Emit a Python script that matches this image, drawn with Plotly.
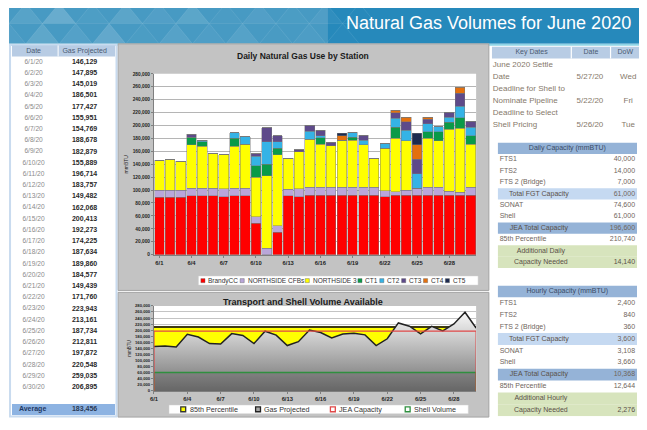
import plotly.graph_objects as go

# The page body adds an 8px margin. Reference pixel coordinates are mapped onto
# the visible window area (8..639, 8..422) so that nothing overflows or scrolls.
PAGE_OFF = 8
REF_W, REF_H = 647 - PAGE_OFF, 430 - PAGE_OFF          # reference extent mapped to the figure
FIG_W, FIG_H = 647 - 2 * PAGE_OFF, 430 - 2 * PAGE_OFF  # figure size that fits the window

# ---------------- data ----------------
day_labels = ["6/1", "6/2", "6/3", "6/4", "6/5", "6/6", "6/7", "6/8", "6/9", "6/10",
              "6/11", "6/12", "6/13", "6/14", "6/15", "6/16", "6/17", "6/18", "6/19", "6/20",
              "6/21", "6/22", "6/23", "6/24", "6/25", "6/26", "6/27", "6/28", "6/29", "6/30"]
tick_labels = ["6/1", "6/4", "6/7", "6/10", "6/13", "6/16", "6/19", "6/22", "6/25", "6/28"]

brandy_cc = [89000, 89000, 89000, 91000, 91000, 91000, 90000, 91000, 91000, 48500,
             0, 35000, 91000, 90000, 92000, 92000, 92000, 92000, 92000, 92000,
             92000, 90000, 92000, 92000, 92000, 92000, 92000, 92000, 92000, 92000]
northside_cfbs = [11000, 11000, 11000, 12000, 12000, 12000, 12000, 12000, 12000, 10000,
                  10000, 10000, 10000, 12000, 12000, 12000, 12000, 12000, 12000, 12000,
                  12000, 9000, 5500, 8000, 10500, 12000, 12000, 6000, 5000, 12000]
northside_3 = [46129, 47895, 45019, 67000, 64500, 52951, 52769, 64500, 68000, 61500,
               112500, 110000, 48482, 57000, 75000, 67000, 65000, 73500, 73500, 66000,
               45439, 66000, 82500, 76500, 0, 76000, 72000, 96000, 99000, 67000]
ct1 = [0, 0, 0, 12000, 7500, 0, 0, 12500, 0, 17500,
       17500, 10000, 0, 0, 0, 10000, 0, 0, 4500, 0,
       0, 0, 17500, 0, 0, 10000, 14000, 11000, 16000, 13000]
ct2 = [0, 0, 0, 0, 2427, 0, 0, 8678, 11879, 15000,
       35000, 10000, 0, 0, 12000, 3000, 0, 0, 7860, 7500,
       0, 6760, 13500, 16000, 22500, 12500, 7872, 7500, 18000, 13500]
ct3 = [0, 0, 0, 4501, 0, 0, 0, 0, 0, 3389,
       21714, 8757, 0, 3068, 9413, 8273, 5225, 0, 0, 7077,
       0, 0, 9000, 13500, 22500, 7500, 0, 8048, 20000, 9395]
ct4 = [0, 0, 0, 0, 0, 0, 0, 0, 0, 0,
       0, 0, 0, 0, 0, 0, 0, 7000, 0, 0,
       0, 0, 3943, 7161, 22500, 2811, 0, 0, 9035, 0]
ct5 = [0, 0, 0, 0, 0, 0, 0, 0, 0, 0,
       0, 0, 0, 0, 0, 0, 0, 3134, 0, 0,
       0, 0, 0, 0, 17734, 0, 0, 0, 0, 0]

station_names = ["BrandyCC", "NORTHSIDE CFBs", "NORTHSIDE 3", "CT1", "CT2", "CT3", "CT4", "CT5"]
station_values = [brandy_cc, northside_cfbs, northside_3, ct1, ct2, ct3, ct4, ct5]
station_colors = ["#ff0000", "#b9a6d9", "#ffff00", "#0a9a48", "#35b3e6", "#5e4a8a", "#e4700e", "#1c2a4f"]

table_dates = ["6/1/20", "6/2/20", "6/3/20", "6/4/20", "6/5/20", "6/6/20", "6/7/20", "6/8/20",
               "6/9/20", "6/10/20", "6/11/20", "6/12/20", "6/13/20", "6/14/20", "6/15/20",
               "6/16/20", "6/17/20", "6/18/20", "6/19/20", "6/20/20", "6/21/20", "6/22/20",
               "6/23/20", "6/24/20", "6/25/20", "6/26/20", "6/27/20", "6/28/20", "6/29/20", "6/30/20"]
gas_projected = [146129, 147895, 145019, 186501, 177427, 155951, 154769, 188678, 182879, 155889,
                 196714, 183757, 149482, 162068, 200413, 192273, 174225, 187634, 189860, 184577,
                 149439, 171760, 223943, 213161, 187734, 212811, 197872, 220548, 259035, 206895]
gas_average = 183456

pct85_daily = 210740
jea_capacity_daily = 196600
shell_volume_daily = 61000
bottom_series_names = ["85th Percentile", "Gas Projected", "JEA Capacity", "Shell Volume"]

key_labels = [("June 2020 Settle", "Date"), ("Deadline for Shell to", "Nominate Pipeline"),
              ("Deadline to Select", "Shell Pricing")]
key_dates = ["5/27/20", "5/22/20", "5/26/20"]
key_dows = ["Wed", "Fri", "Tue"]

cap_labels = ["FTS1", "FTS2", "FTS 2 (Bridge)", "Total FGT Capacity", "SONAT", "Shell",
              "JEA Total Capacity", "85th Percentile"]
cap_styles = ["plain", "plain", "plain", "sub", "plain", "plain", "total", "plain"]
daily_values = [40000, 14000, 7000, 61000, 74600, 61000, 196600, 210740]
daily_needed = 14140
hourly_values = [2400, 840, 360, 3600, 3108, 3660, 10368, 12644]
hourly_needed = 2276

# ---------------- helpers ----------------
FONT = "Liberation Sans, Arial, sans-serif"


def px(x):
    return (x - PAGE_OFF) / REF_W


def py(y):
    return 1 - (y - PAGE_OFF) / REF_H


def text_w(s, size):
    cw = {'M': .833, 'W': .944, 'm': .833, 'w': .722, 'C': .722, 'D': .722, 'G': .778, 'H': .722,
          'N': .722, 'O': .778, 'Q': .778, 'R': .722, 'U': .722, 'A': .667, 'B': .667, 'E': .667,
          'K': .667, 'P': .667, 'S': .667, 'V': .667, 'X': .667, 'Y': .667, 'F': .611, 'T': .611,
          'Z': .611, 'L': .556, 'J': .5, 'I': .278, ' ': .278, 'i': .222, 'l': .222, 'j': .222,
          'f': .278, 't': .278, 'r': .333, 's': .5, 'c': .5, 'k': .5, 'v': .5, 'x': .5, 'y': .5,
          'z': .5, '/': .278, ',': .278, '.': .278, '(': .333, ')': .333}
    return size * sum(cw.get(c, .556) for c in s)


fig = go.Figure()
shapes = []
annotations = []

# ---------------- decorations: banner & panels ----------------
shapes.append(dict(type="rect", xref="paper", yref="paper", x0=px(5), x1=px(650), y0=py(42), y1=py(0),
                   fillcolor="#2689bb", line=dict(width=0), layer="below"))
shapes.append(dict(type="rect", xref="paper", yref="paper", x0=px(5), x1=px(330), y0=py(42), y1=py(0),
                   fillcolor="rgba(190,215,225,0.22)", line=dict(width=0), layer="below"))
tri_w, tri_h = 34, 21
for row in range(2):
    ytop, ybot = row * tri_h, (row + 1) * tri_h
    for i in range(11):
        x0 = 5 + i * tri_w - (row * tri_w / 2)
        a = [0.10, 0.22, 0.05, 0.16][(i + 2 * row) % 4] * max(0.15, 1 - i / 12)
        shapes.append(dict(type="path", xref="paper", yref="paper",
                           path=f"M {px(x0)},{py(ybot)} L {px(x0 + tri_w / 2)},{py(ytop)} L {px(x0 + tri_w)},{py(ybot)} Z",
                           fillcolor=f"rgba(235,245,250,{a:.3f})", line=dict(color="rgba(255,255,255,0.15)", width=0.6),
                           layer="below"))
shapes.append(dict(type="rect", xref="paper", yref="paper", x0=px(5), x1=px(650), y0=py(44), y1=py(42),
                   fillcolor="#8fd4e6", line=dict(width=0), layer="below"))
annotations.append(dict(xref="paper", yref="paper", x=px(494), y=py(20), text="Natural Gas Volumes for June 2020",
                        showarrow=False, font=dict(family=FONT, size=18, color="white"),
                        xanchor="center", yanchor="middle"))

# chart panels
for (y0, y1) in [(42, 297), (299, 428)]:
    shapes.append(dict(type="rect", xref="paper", yref="paper", x0=px(116), x1=px(494), y0=py(y1), y1=py(y0),
                       fillcolor="#c3c3c3", line=dict(color="#a3a3a3", width=1), layer="below"))
# white plot areas
for ax in ["x", "x2"]:
    yy = "y" if ax == "x" else "y2"
    shapes.append(dict(type="rect", xref=f"{ax} domain", yref=f"{yy} domain", x0=0, x1=1, y0=0, y1=1,
                       fillcolor="white", line=dict(width=0), layer="below"))

# left table frame
shapes.append(dict(type="rect", xref="paper", yref="paper", x0=px(6), x1=px(114.5), y0=py(427.5), y1=py(43),
                   fillcolor="rgba(0,0,0,0)", line=dict(color="#c9dbef", width=2), layer="below"))

annotations.append(dict(xref="paper", yref="paper", x=px(305), y=py(55), text="<b>Daily Natural Gas Use by Station</b>",
                        showarrow=False, font=dict(family=FONT, size=8.5, color="#1a1a1a"),
                        xanchor="center", yanchor="middle"))
annotations.append(dict(xref="paper", yref="paper", x=px(305), y=py(309), text="<b>Transport and Shell Volume Available</b>",
                        showarrow=False, font=dict(family=FONT, size=9, color="#1a1a1a"),
                        xanchor="center", yanchor="middle"))

# ---------------- top chart: stacked bars ----------------
for name, vals, col in zip(station_names, station_values, station_colors):
    fig.add_trace(go.Bar(x=day_labels, y=vals, name=name, marker=dict(color=col, line=dict(color="rgba(120,120,120,0.75)", width=0.6)),
                         xaxis="x", yaxis="y", showlegend=False, hoverinfo="skip"))

# manual legend (top)
shapes.append(dict(type="rect", xref="paper", yref="paper", x0=px(198), x1=px(483), y0=py(291.5), y1=py(282),
                   fillcolor="white", line=dict(color="#d0d0d0", width=0.5)))
lx = 200.5
for name, col in zip(station_names, station_colors):
    shapes.append(dict(type="rect", xref="paper", yref="paper", x0=px(lx), x1=px(lx + 4.2), y0=py(289), y1=py(284.8),
                       fillcolor=col, line=dict(color="#555", width=0.4)))
    annotations.append(dict(xref="paper", yref="paper", x=px(lx + 5.5), y=py(287), text=name, showarrow=False,
                            xanchor="left", yanchor="middle", font=dict(family=FONT, size=6.5, color="#333")))
    lx += 5.5 + text_w(name, 6.5) + 4.5

# ---------------- bottom chart: areas ----------------
n = len(day_labels)
x_edges = [day_labels[0]] + day_labels + [day_labels[-1]]
fig.add_trace(go.Scatter(x=day_labels, y=[pct85_daily] * n, mode="lines", fill="tozeroy", fillcolor="#ffff00",
                         line=dict(color="#3e3a14", width=2), xaxis="x2", yaxis="y2", showlegend=False, hoverinfo="skip"))
fig.add_trace(go.Scatter(x=day_labels, y=gas_projected, mode="lines", fill="tozeroy",
                         fillgradient=dict(type="vertical", colorscale=[[0, "#6e6e6e"], [1, "#f3f3f3"]], start=0, stop=250000),
                         line=dict(color="#222222", width=1.5), xaxis="x2", yaxis="y2", showlegend=False, hoverinfo="skip"))
fig.add_trace(go.Scatter(x=x_edges, y=[0] + [shell_volume_daily] * n + [0], mode="lines", fill="toself",
                         fillcolor="rgba(60,60,60,0.18)", line=dict(color="#2f8f3f", width=1.5),
                         xaxis="x2", yaxis="y2", showlegend=False, hoverinfo="skip"))
fig.add_trace(go.Scatter(x=x_edges, y=[0] + [jea_capacity_daily] * n + [0], mode="lines",
                         line=dict(color="#e04848", width=1.2), xaxis="x2", yaxis="y2", showlegend=False, hoverinfo="skip"))

# manual legend (bottom)
shapes.append(dict(type="rect", xref="paper", yref="paper", x0=px(168), x1=px(473), y0=py(424.5), y1=py(415.5),
                   fillcolor="white", line=dict(color="#d0d0d0", width=0.5)))
leg_fill = ["#ffff00", "#a8a8a8", "white", "white"]
leg_line = ["#333333", "#222222", "#e04848", "#2f8f3f"]
slot = (473 - 168) / len(bottom_series_names)
for i, name in enumerate(bottom_series_names):
    sx = 168 + i * slot + 12
    shapes.append(dict(type="rect", xref="paper", yref="paper", x0=px(sx), x1=px(sx + 5), y0=py(422.5), y1=py(417.5),
                       fillcolor=leg_fill[i], line=dict(color=leg_line[i], width=1.3)))
    annotations.append(dict(xref="paper", yref="paper", x=px(sx + 7), y=py(420), text=name, showarrow=False,
                            xanchor="left", yanchor="middle", font=dict(family=FONT, size=7.2, color="#333")))

# ---------------- tables (own axes) ----------------
layout_axes = {}


def table_axes(idx, x0, x1, ytop, ybot, xmax, nrows):
    layout_axes[f"xaxis{idx}"] = dict(domain=[max(0, px(x0)), min(1, px(x1))], range=[0, xmax], visible=False,
                                      fixedrange=True, anchor=f"y{idx}")
    layout_axes[f"yaxis{idx}"] = dict(domain=[max(0, py(ybot)), min(1, py(ytop))], range=[nrows - 0.5, -0.5],
                                      visible=False, fixedrange=True, anchor=f"x{idx}")


def cell_fill(idx, x0, x1, row, color):
    shapes.append(dict(type="rect", xref=f"x{idx}", yref=f"y{idx}", x0=x0, x1=x1, y0=row - 0.5, y1=row + 0.5,
                       fillcolor=color, line=dict(width=0), layer="below"))


def text_col(idx, xs, rows, texts, pos, size, color, bold=False):
    fig.add_trace(go.Scatter(x=xs, y=rows, text=texts, mode="text", textposition=pos,
                             textfont=dict(family=FONT, size=size, color=color, weight="bold" if bold else "normal"),
                             xaxis=f"x{idx}", yaxis=f"y{idx}", showlegend=False, hoverinfo="skip", cliponaxis=False))


# left table: header + 30 days + blank + average
LT = 3
table_axes(LT, 8, 114, 43.4, 426.2, 106, len(table_dates) + 3)
cell_fill(LT, 0, 105, 0, "#b8cce4")
avg_row = len(table_dates) + 2
cell_fill(LT, 0, 105, avg_row, "#8db3e2")
shapes.append(dict(type="line", xref=f"x{LT}", yref=f"y{LT}", x0=47, x1=47, y0=-0.5, y1=0.5,
                   line=dict(color="white", width=1)))
text_col(LT, [22, 74], [0, 0], ["Date", "Gas Projected"], "middle center", 7, "#4a5a72")
rows = list(range(1, len(table_dates) + 1))
text_col(LT, [22] * len(rows), rows, table_dates, "middle center", 6.6, "#8a8a8a")
text_col(LT, [74] * len(rows), rows, [f"{v:,}" for v in gas_projected], "middle center", 7, "#2a2a2a", bold=True)
text_col(LT, [21], [avg_row], ["Average"], "middle center", 7, "#1f3864", bold=True)
text_col(LT, [74], [avg_row], [f"{gas_average:,}"], "middle center", 7, "#2a3a55", bold=True)

# key dates table
KD = 4
table_axes(KD, 497, 647, 44.75, 132.25, 150, 1 + 2 * len(key_labels))
cell_fill(KD, 0, 150, 0, "#b8cce4")
for xx in [81, 121]:
    shapes.append(dict(type="line", xref=f"x{KD}", yref=f"y{KD}", x0=xx, x1=xx, y0=-0.5, y1=0.5,
                       line=dict(color="white", width=1.2)))
text_col(KD, [40.5, 101, 136], [0, 0, 0], ["Key Dates", "Date", "DoW"], "middle center", 7, "#4a5a72")
kd_rows_a = [1 + 2 * i for i in range(len(key_labels))]
kd_rows_b = [2 + 2 * i for i in range(len(key_labels))]
KD_COL = "#86796a"
text_col(KD, [1] * len(kd_rows_a), kd_rows_a, [a for a, b in key_labels], "middle right", 8, KD_COL)
text_col(KD, [1] * len(kd_rows_b), kd_rows_b, [b for a, b in key_labels], "middle right", 8, KD_COL)
text_col(KD, [100] * len(kd_rows_b), kd_rows_b, key_dates, "middle center", 8, KD_COL)
text_col(KD, [139] * len(kd_rows_b), kd_rows_b, key_dows, "middle center", 8, KD_COL)


def capacity_table(idx, ytop, ybot, title, values, needed, need_label):
    nrows = 1 + len(cap_labels) + 2
    table_axes(idx, 503, 645, ytop, ybot, 142, nrows)
    cell_fill(idx, 0, 142, 0, "#95b3d7")
    text_col(idx, [71], [0], [title], "middle center", 7, "#3a4b66")
    style_fill = {"sub": "#c5d9f1", "total": "#95b3d7"}
    for r, (lab, st) in enumerate(zip(cap_labels, cap_styles), start=1):
        if st in style_fill:
            cell_fill(idx, 0, 142, r, style_fill[st])
    plain_rows = [r for r, st in enumerate(cap_styles, start=1) if st == "plain"]
    cent_rows = [r for r, st in enumerate(cap_styles, start=1) if st != "plain"]
    text_col(idx, [2] * len(plain_rows), plain_rows, [cap_labels[r - 1] for r in plain_rows], "middle right", 7, "#6f655c")
    text_col(idx, [42] * len(cent_rows), cent_rows, [cap_labels[r - 1] for r in cent_rows], "middle center", 7, "#5a5048")
    vrows = list(range(1, len(values) + 1))
    text_col(idx, [140] * len(vrows), vrows, [f"{v:,}" for v in values], "middle left", 7, "#6f655c")
    nr1, nr2 = len(cap_labels) + 1, len(cap_labels) + 2
    cell_fill(idx, 0, 142, nr1, "#d7e4bd")
    cell_fill(idx, 0, 142, nr2, "#d7e4bd")
    text_col(idx, [44, 44], [nr1, nr2], [need_label[0], need_label[1]], "middle center", 7, "#5a5048")
    text_col(idx, [140], [nr2], [f"{needed:,}"], "middle left", 7, "#5a5048")


capacity_table(5, 144.1, 273.9, "Daily Capacity (mmBTU)", daily_values, daily_needed,
               ("Additional Daily", "Capacity Needed"))
capacity_table(6, 291.85, 427.15, "Hourly Capacity (mmBTU)", hourly_values, hourly_needed,
               ("Additional Hourly", "Capacity Needed"))

# ---------------- layout ----------------
axis_common = dict(showline=True, linecolor="#7f7f7f", linewidth=1, ticks="outside", tickcolor="#7f7f7f",
                   fixedrange=True)
fig.update_layout(
    width=FIG_W, height=FIG_H, autosize=False,
    margin=dict(l=0, r=0, t=0, b=0),
    paper_bgcolor="white", plot_bgcolor="white",
    barmode="stack", bargap=0.1,
    showlegend=False,
    font=dict(family=FONT),
    xaxis=dict(domain=[px(152.7), px(481)], type="category", categoryorder="array", categoryarray=day_labels,
               tickvals=tick_labels, ticktext=tick_labels, range=[-0.5, len(day_labels) - 0.5],
               tickfont=dict(family=FONT, size=5.8, color="#222", weight="bold"), ticklen=2, anchor="y",
               **axis_common),
    yaxis=dict(domain=[py(260), py(73)], range=[0, 280000], dtick=20000, tickformat=",",
               tickfont=dict(family=FONT, size=4.8, color="#222", weight="bold"), ticklen=2,
               gridcolor="#b5b5b5", gridwidth=0.8, zeroline=False, anchor="x",
               title=dict(text="mmBTU", font=dict(family=FONT, size=5, color="#222"), standoff=3),
               **axis_common),
    xaxis2=dict(domain=[px(152.7), px(481)], type="category", categoryorder="array", categoryarray=day_labels,
                tickvals=tick_labels, ticktext=tick_labels, range=[0, len(day_labels) - 1],
                tickfont=dict(family=FONT, size=5.8, color="#222", weight="bold"), ticklen=2, anchor="y2",
                **axis_common),
    yaxis2=dict(domain=[py(401), py(313)], range=[0, 280000], dtick=20000, tickformat=",",
                tickfont=dict(family=FONT, size=4.2, color="#222", weight="bold"), ticklen=2,
                gridcolor="#c4c4c4", gridwidth=0.8, zeroline=False, anchor="x2",
                title=dict(text="mmBTU", font=dict(family=FONT, size=4.5, color="#222"), standoff=3),
                **axis_common),
    shapes=shapes,
    annotations=annotations,
)
fig.update_layout(**layout_axes)

fig.write_html("out.html")
